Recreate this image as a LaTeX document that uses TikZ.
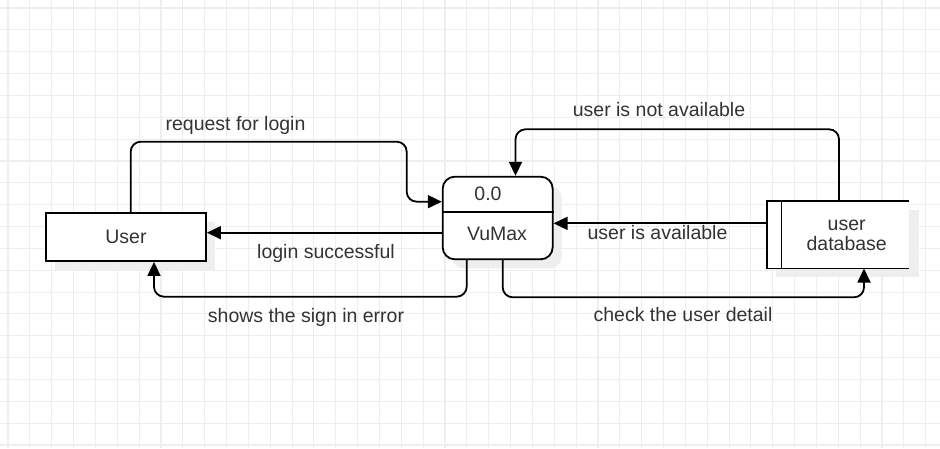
\documentclass[tikz,border=0pt]{standalone}
\usepackage{fontspec}
\setmainfont{Liberation Sans}
\usetikzlibrary{arrows.meta,calc}
\definecolor{gridc}{HTML}{EEEEEE}
\definecolor{shadowc}{HTML}{EEEEEE}
\definecolor{txt}{HTML}{333333}
\begin{document}
\begin{tikzpicture}[x=1pt,y=-1pt,
  every node/.style={font=\fontsize{19.5}{19.3}\selectfont, text=txt},
  box/.style={draw=black, line width=1.8pt, fill=white, inner sep=0pt},
  edgeline/.style={draw=black, line width=1.8pt},
  conn/.style={draw=black, line width=1.8pt, rounded corners=10pt, -{Triangle[length=14pt,width=13pt]}},
  lbl/.style={anchor=base, inner sep=0pt},
  shadowbox/.style={fill=shadowc}]
\useasboundingbox (0,0) rectangle (940,448);
\fill[white] (0,0) rectangle (940,448);
% grid
\foreach \i in {0,...,42} {\draw[gridc, line width=1.1pt] ({8+21.85*\i},0) -- ({8+21.85*\i},448);}
\foreach \j in {0,...,20} {\draw[gridc, line width=1.1pt] (0,{8+21.85*\j}) -- (940,{8+21.85*\j});}
% shadows
\fill[shadowbox] (55,222) rectangle (215,270);
\fill[shadowbox, rounded corners=12pt] (451.7,185.7) rectangle (561.7,268.3);
\fill[shadowbox] (776,210) rectangle (919,277.3);
% nodes
\node[box, minimum width=160pt, minimum height=48pt] (user) at (126,237) {User};
\node[box, rounded corners=12pt, minimum width=110pt, minimum height=82.6pt] (vumax) at (497.7,218) {};
\coordinate (div) at (0,211.7);
\draw[edgeline] (vumax.west |- div) -- (vumax.east |- div);
\node[lbl] (num) at (488,200) {0.0};
\node[lbl] (vname) at (497,240) {VuMax};
\node[inner sep=0pt, fill=white, minimum width=142pt, minimum height=67.3pt] (db) at (838,234.65) {};
\draw[edgeline] (db.north east) -- (db.north west) -- (db.south west) -- (db.south east);
\draw[edgeline] ([xshift=14.7pt]db.north west) -- ([xshift=14.7pt]db.south west);
\node[lbl] (dbt1) at (846.7,230.7) {user};
\node[lbl] (dbt2) at (846.7,250) {database};
% connectors
\coordinate (c1) at (406.7,141.7);
\draw[conn] ([xshift=4.7pt]user.north) |- (c1) |- ([yshift=16.3pt]vumax.west);
\coordinate (a2) at ([yshift=-14.7pt]vumax.west);
\draw[conn] (a2) -- (user.east |- a2);
\coordinate (c3) at (154,296.7);
\draw[conn] ([xshift=-31pt]vumax.south) |- (c3) -- (c3 |- user.south);
\coordinate (c4) at (864,297.3);
\draw[conn] ([xshift=5pt]vumax.south) |- (c4) -- (c4 |- db.south);
\coordinate (a5) at ([yshift=11.3pt]db.west);
\draw[conn] (a5) -- (vumax.east |- a5);
\coordinate (c6) at (515.5,129.3);
\draw[conn] ([xshift=1pt]db.north) |- (c6) -- (c6 |- vumax.north);
% labels
\node[lbl] (l1) at (235.5,130) {request for login};
\node[lbl] (l2) at (326,258.3) {login successful};
\node[lbl] (l3) at (306,322.7) {shows the sign in error};
\node[lbl] (l4) at (659,116) {user is not available};
\node[lbl] (l5) at (657.5,239.3) {user is available};
\node[lbl] (l6) at (683,321.7) {check the user detail};
\end{tikzpicture}
\end{document}
